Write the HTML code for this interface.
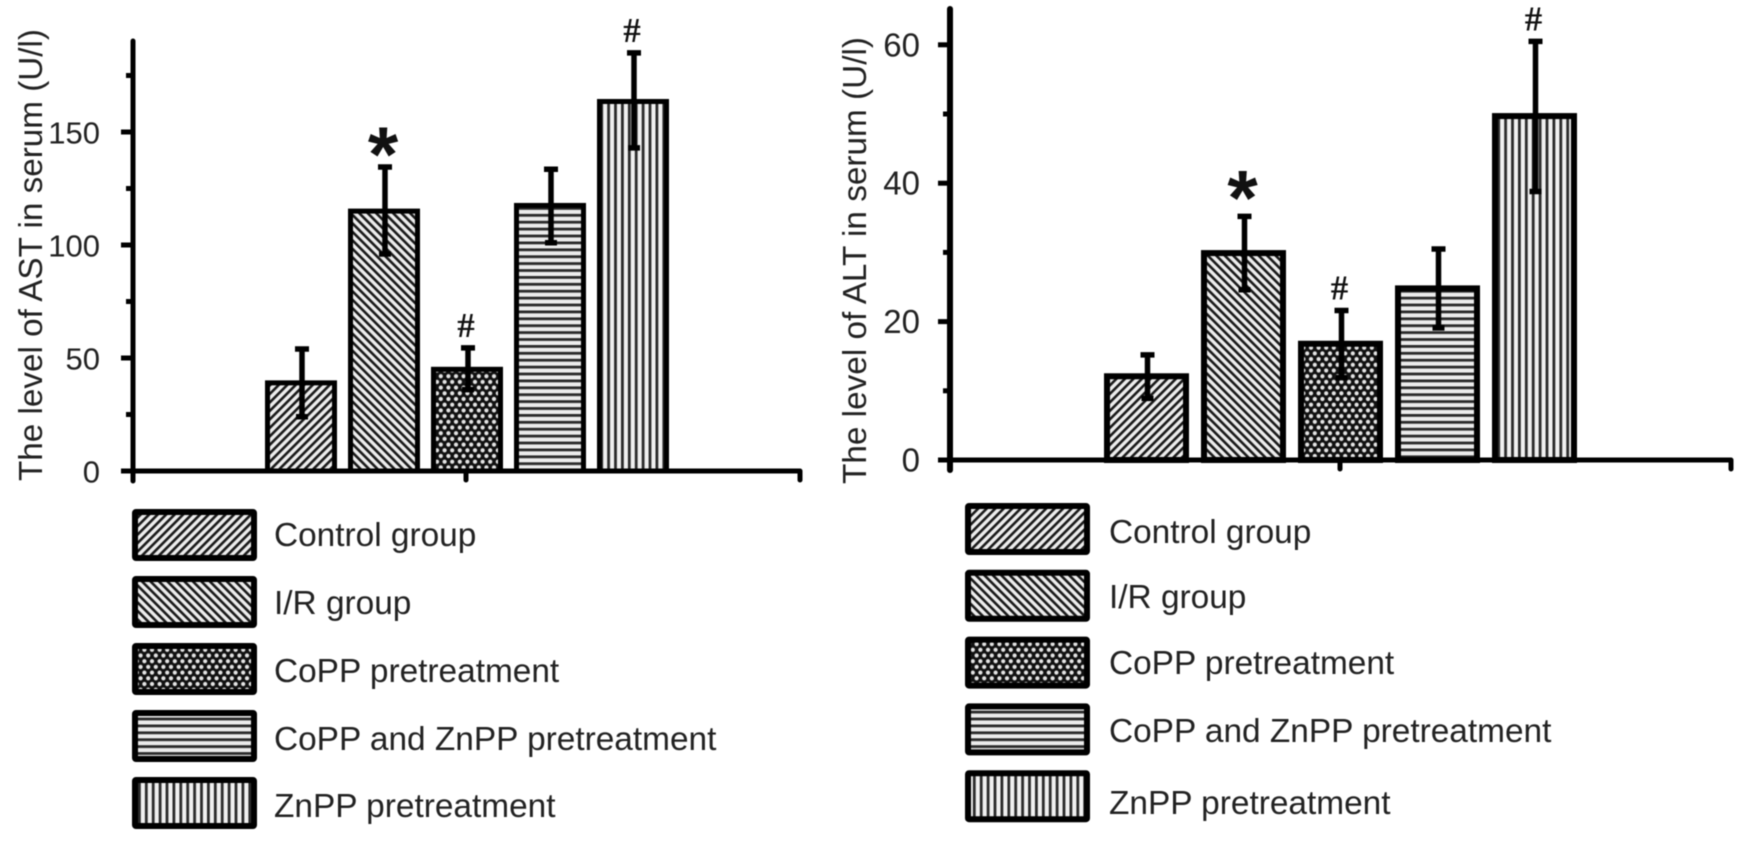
<!DOCTYPE html>
<html lang="en">
<head>
<meta charset="utf-8">
<title>AST and ALT serum levels</title>
<style>
html,body{margin:0;padding:0;background:#fff;width:1758px;height:842px;overflow:hidden}
svg{display:block;filter:blur(0.55px)}
text{font-family:"Liberation Sans",Arial,sans-serif;fill:#222}
</style>
</head>
<body>
<svg id="figure" xmlns="http://www.w3.org/2000/svg" width="1758" height="842" viewBox="0 0 1758 842">
<defs>
<pattern id="pat-0" patternUnits="userSpaceOnUse" width="6" height="6" patternTransform="rotate(45)"><rect width="6" height="6" fill="#ededed"/><rect x="0" width="2.6" height="6" fill="#1a1a1a"/></pattern>
<pattern id="pat-1" patternUnits="userSpaceOnUse" width="6" height="6" patternTransform="rotate(-45)"><rect width="6" height="6" fill="#ededed"/><rect x="0" width="2.6" height="6" fill="#1a1a1a"/></pattern>
<pattern id="pat-2" patternUnits="userSpaceOnUse" width="7.6" height="11.4"><rect width="7.6" height="11.4" fill="#111"/><circle cx="0" cy="0" r="2.1" fill="#e4e4e4"/><circle cx="7.6" cy="0" r="2.1" fill="#e4e4e4"/><circle cx="0" cy="11.4" r="2.1" fill="#e4e4e4"/><circle cx="7.6" cy="11.4" r="2.1" fill="#e4e4e4"/><circle cx="3.8" cy="5.7" r="2.1" fill="#e4e4e4"/></pattern>
<pattern id="pat-3" patternUnits="userSpaceOnUse" width="6.9" height="6.9"><rect width="6.9" height="6.9" fill="#ececec"/><rect y="0" width="6.9" height="2.8" fill="#2a2a2a"/></pattern>
<pattern id="pat-4" patternUnits="userSpaceOnUse" width="6.9" height="6.9"><rect width="6.9" height="6.9" fill="#f0f0f0"/><rect x="0" width="2.8" height="6.9" fill="#2a2a2a"/></pattern>
</defs>
</svg>
<script>
const categories = ['Control group', 'I/R group', 'CoPP pretreatment', 'CoPP and ZnPP pretreatment', 'ZnPP pretreatment'];
const astValues = [39, 115, 45, 117.5, 163.5];
const astErrorUpper = [54, 134.5, 54.5, 133.5, 185];
const astErrorLower = [24, 96, 36, 101, 143];
const astMarkers = ['', '*', '#', '', '#'];
const astTickLabels = [0, 50, 100, 150];
const astMinorTicks = [25, 75, 125, 175];
const altValues = [12.1, 29.9, 16.8, 24.8, 49.7];
const altErrorUpper = [15.2, 35.2, 21.6, 30.5, 60.5];
const altErrorLower = [8.9, 24.6, 11.9, 19.1, 38.8];
const altMarkers = ['', '*', '#', '', '#'];
const altTickLabels = [0, 20, 40, 60];
const altMinorTicks = [10, 30, 50];

const svg = document.getElementById('figure');
const NS = 'http://www.w3.org/2000/svg';
function mk(tag, attrs, parent, txt) {
  const e = document.createElementNS(NS, tag);
  for (const k in attrs) e.setAttribute(k, attrs[k]);
  if (txt !== undefined) e.textContent = txt;
  parent.appendChild(e);
  return e;
}
function slug(s) { return s.toLowerCase().replace(/[^a-z0-9]+/g, '-'); }

function drawChart(o) {
  const g = mk('g', {}, svg);
  
  
  const y = v => o.y0 - v * o.pxPerUnit;
  const xLeft = i => o.x0 + i * o.pitch;

  categories.forEach((c, i) => {
    const bar = mk('rect', {x: xLeft(i) + o.sw / 2, y: y(o.values[i]), width: o.barW - o.sw, height: o.y0 - y(o.values[i]), fill: 'url(#pat-' + i + ')', stroke: '#000', 'stroke-width': o.sw}, g);
    
    
    const cx = xLeft(i) + o.barW / 2 + 1;
    const err = mk('path', {d: 'M' + cx + ' ' + y(o.upper[i]) + 'V' + y(o.lower[i]) + 'M' + (cx - 7) + ' ' + y(o.upper[i]) + 'H' + (cx + 7) + 'M' + (cx - 6) + ' ' + y(o.lower[i]) + 'H' + (cx + 6), fill: 'none', stroke: '#000', 'stroke-width': 5.5}, g);
    
    
    if (o.markers[i] === '*') {
      const star = mk('text', {x: cx - 2, y: y(o.upper[i]) + o.starGap, 'text-anchor': 'middle', 'font-size': 78, 'font-weight': 'bold', style: 'fill:#111'}, g, '*');
      
      
    } else if (o.markers[i] === '#') {
      const hash = mk('text', {x: cx - 2, y: y(o.upper[i]) - 11, 'text-anchor': 'middle', 'font-size': 35, 'font-weight': 'bold', style: 'font-family:\'Liberation Serif\',serif;fill:#111'}, g, '#');
      
      
    }
  });

  const yAxis = mk('line', {x1: o.axisX, x2: o.axisX, y1: o.axisTop, y2: o.y0 + 10, stroke: '#000', 'stroke-width': o.axisW, 'stroke-linecap': 'round'}, g);
  
  
  const xAxis = mk('line', {x1: o.axisX - 11, x2: o.axisEnd, y1: o.y0, y2: o.y0, stroke: '#000', 'stroke-width': 5}, g);
  
  
  [o.tickX, o.axisEnd].forEach(tx => {
    const t = mk('line', {x1: tx, x2: tx, y1: o.y0, y2: o.y0 + 9, stroke: '#000', 'stroke-width': 5, 'stroke-linecap': 'round'}, g);
    
    
  });

  o.ticks.forEach(v => {
    const t = mk('line', {x1: o.axisX - 12, x2: o.axisX, y1: y(v), y2: y(v), stroke: '#000', 'stroke-width': 5}, g);
    
    
    const l = mk('text', {x: o.axisX - o.labelGap, y: y(v) + 11.5, 'text-anchor': 'end', 'font-size': o.tickFont}, g, String(v));
    
    
  });
  o.minor.forEach(v => {
    const t = mk('line', {x1: o.axisX - 7, x2: o.axisX, y1: y(v), y2: y(v), stroke: '#000', 'stroke-width': 5}, g);
    
    
  });

  const title = mk('text', {transform: 'translate(' + o.titleX + ',' + o.titleY + ') rotate(-90)', 'font-size': 33, textLength: o.titleLen, lengthAdjust: 'spacingAndGlyphs'}, g, o.title);
  
  

  categories.forEach((c, i) => {
    const sw = 6;
    const entry = mk('g', {}, g);
    
    
    const top = o.legendY + i * o.legendPitch;
    const swatch = mk('rect', {x: o.legendX + sw / 2, y: top + sw / 2, width: 125 - sw, height: 52 - sw, fill: 'url(#pat-' + i + ')', stroke: '#000', 'stroke-width': sw, rx: 1}, entry);
    
    
    const label = mk('text', {x: o.legendTextX, y: o.legendBase[i], 'font-size': 33.4}, entry, c);
    
    
  });
}

drawChart({
  key: 'ast', values: astValues, upper: astErrorUpper, lower: astErrorLower, markers: astMarkers, ticks: astTickLabels, minor: astMinorTicks,
  y0: 471, pxPerUnit: 2.26, x0: 265, pitch: 83, barW: 72, sw: 5, axisX: 133, axisW: 5, axisTop: 41, axisEnd: 800, tickX: 466, labelGap: 33, starGap: 14, tickFont: 31,
  title: 'The level of AST in serum (U/l)', titleX: 42, titleY: 481, titleLen: 452,
  legendX: 132, legendY: 509, legendPitch: 67, legendTextX: 274, legendBase: [546, 614, 682, 750, 817]
});
drawChart({
  key: 'alt', values: altValues, upper: altErrorUpper, lower: altErrorLower, markers: altMarkers, ticks: altTickLabels, minor: altMinorTicks,
  y0: 460, pxPerUnit: 6.92, x0: 1104, pitch: 97, barW: 85, sw: 6, axisX: 950, axisW: 6, axisTop: 9, axisEnd: 1731, tickX: 1340, labelGap: 30, starGap: 8, tickFont: 33,
  title: 'The level of ALT in serum (U/l)', titleX: 866, titleY: 484, titleLen: 447,
  legendX: 965, legendY: 503, legendPitch: 66.8, legendTextX: 1109, legendBase: [543, 608, 674, 742, 814]
});
</script>
</body>
</html>
